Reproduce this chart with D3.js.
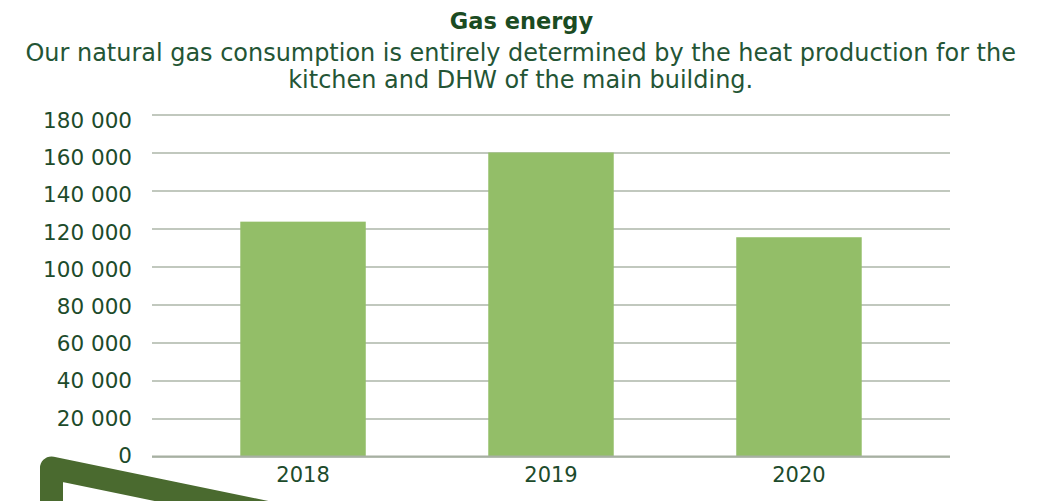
<!DOCTYPE html>
<html>
<head>
<meta charset="utf-8">
<script src="https://cdn.jsdelivr.net/npm/d3@7"></script>
<style>
  html, body { margin: 0; padding: 0; background: #ffffff; }
  svg { display: block; }
  text { font-family: "DejaVu Sans", sans-serif; }
</style>
</head>
<body>
<svg id="chart" width="1058" height="501"></svg>
<script>
const title = "Gas energy";
const subtitleLines = [
  "Our natural gas consumption is entirely determined by the heat production for the",
  "kitchen and DHW of the main building."
];
const categories = ["2018", "2019", "2020"];
const values = [123600, 160000, 115400];
const yTicks = [0, 20000, 40000, 60000, 80000, 100000, 120000, 140000, 160000, 180000];

const W = 1058, H = 501;
const svg = d3.select("#chart");

const plot = { left: 152, right: 950, top: 114.5, bottom: 456.5 };

const x = d3.scaleBand()
  .domain(categories)
  .range([plot.left, plot.right])
  .paddingInner(0.494)
  .paddingOuter(0.356);

const y = d3.scaleLinear()
  .domain([0, 180000])
  .range([plot.bottom, plot.top]);

// label scale (labels in reference sit on a slightly tighter spacing than gridlines)
const yLabel = d3.scaleLinear()
  .domain([0, 180000])
  .range([454.5, 119.7]);

const fmt = v => d3.format(",")(v).replace(/,/g, " ");

// gridlines
const grid = svg.append("g")
  .attr("transform", `translate(${plot.left},0)`)
  .call(d3.axisLeft(y).tickValues(yTicks).tickSize(-(plot.right - plot.left)).tickFormat(""));
grid.select(".domain").remove();
grid.selectAll(".tick line")
  .attr("stroke", "#adb6a8")
  .attr("stroke-width", 1.6);

// bars
svg.append("g").selectAll("rect")
  .data(values)
  .join("rect")
  .attr("x", (d, i) => x(categories[i]))
  .attr("width", x.bandwidth())
  .attr("y", d => y(d))
  .attr("height", d => y(0) - y(d))
  .attr("fill", "#93be68");

// baseline
svg.append("line")
  .attr("x1", plot.left).attr("x2", plot.right)
  .attr("y1", y(0)).attr("y2", y(0))
  .attr("stroke", "#a7b0a2").attr("stroke-width", 2.2);

// y tick labels
const yAxisLabels = svg.append("g")
  .attr("transform", `translate(132,0)`)
  .call(d3.axisLeft(yLabel).tickValues(yTicks).tickSize(0).tickPadding(0).tickFormat(fmt));
yAxisLabels.select(".domain").remove();
yAxisLabels.selectAll("text")
  .attr("fill", "#1d4b2b")
  .attr("font-family", "DejaVu Sans, sans-serif")
  .attr("font-size", 21.5)
  .attr("dy", "0.36em");

// x labels
const xAxis = svg.append("g")
  .attr("transform", `translate(0,${plot.bottom})`)
  .call(d3.axisBottom(x).tickSize(0).tickPadding(0));
xAxis.select(".domain").remove();
xAxis.selectAll("text")
  .attr("fill", "#1d4b2b")
  .attr("font-family", "DejaVu Sans, sans-serif")
  .attr("font-size", 21)
  .attr("dy", 0)
  .attr("y", 25.5);

// title
svg.append("text")
  .attr("x", 521.5).attr("y", 29.3)
  .attr("text-anchor", "middle")
  .attr("font-weight", "bold")
  .attr("font-size", 22.5)
  .attr("fill", "#1b4b22")
  .text(title);

// subtitle, fitted to reference line width
const sub = svg.append("g");
const subBase = [60.6, 88.4];
const lines = sub.selectAll("text")
  .data(subtitleLines)
  .join("text")
  .attr("x", 520.7)
  .attr("y", (d, i) => subBase[i])
  .attr("text-anchor", "middle")
  .attr("font-size", 24)
  .attr("fill", "#245535")
  .text(d => d);
const w0 = lines.nodes()[0].getComputedTextLength();
const fs = 24 * 991 / w0;
lines.attr("font-size", fs);

// decorative corner shape
svg.append("path")
  .attr("d", `M51.5 560 L51.5 468 L420 544`)
  .attr("fill", "none")
  .attr("stroke", "#4a6a2f")
  .attr("stroke-width", 23)
  .attr("stroke-linejoin", "round");
</script>
</body>
</html>
